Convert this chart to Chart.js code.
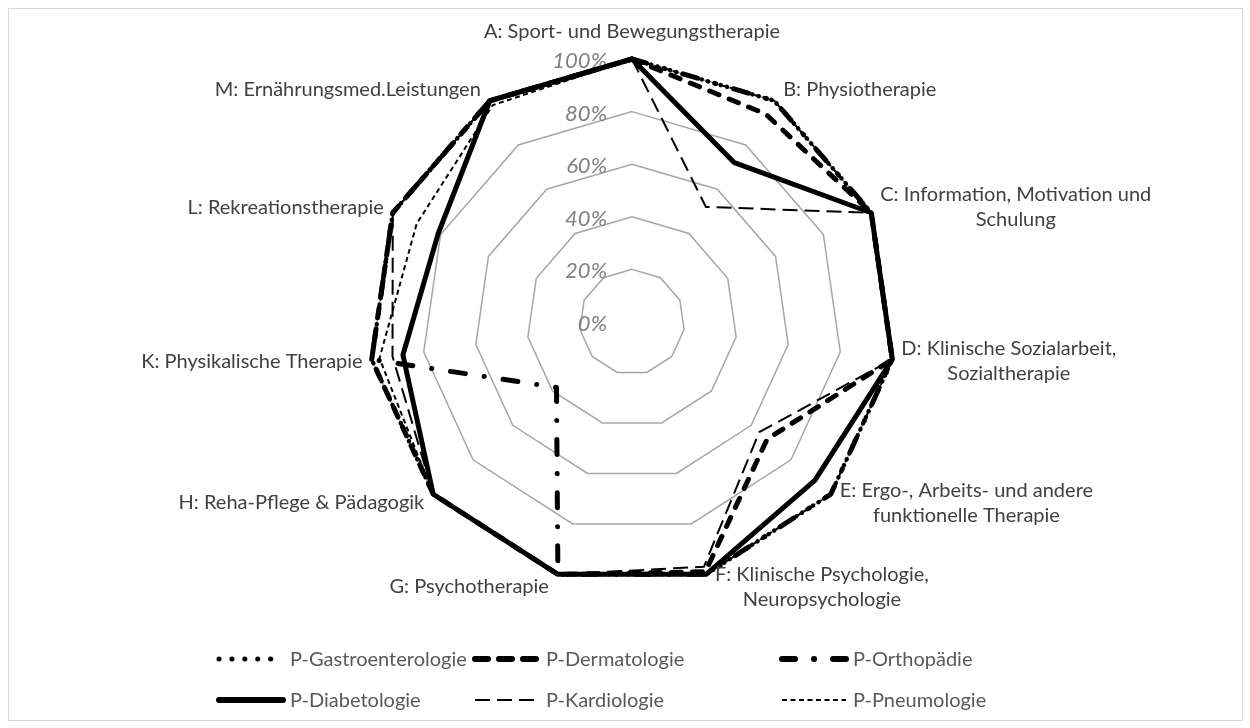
<!DOCTYPE html>
<html>
<head>
<meta charset="utf-8">
<script src="https://cdn.jsdelivr.net/npm/chart.js@4.4.1/dist/chart.umd.min.js"></script>
<style>
  html, body { margin: 0; padding: 0; background: #fff; }
  #wrap { position: relative; width: 1250px; height: 728px; }
  #frame { position: absolute; left: 8px; top: 8px; width: 1233px; height: 711px; border: 1px solid #d9d9d9; pointer-events: none; }
  canvas { display: block; }
</style>
</head>
<body>
<div id="wrap">
  <canvas id="radarChart"></canvas>
  <div id="frame"></div>
</div>
<script>
// Categories (multi-line labels as arrays)
const categories = [
    ['A: Sport- und Bewegungstherapie'],
    ['B: Physiotherapie'],
    ['C: Information, Motivation und', 'Schulung'],
    ['D: Klinische Sozialarbeit,', 'Sozialtherapie'],
    ['E: Ergo-, Arbeits- und andere', 'funktionelle Therapie'],
    ['F: Klinische Psychologie,', 'Neuropsychologie'],
    ['G: Psychotherapie'],
    ['H: Reha-Pflege & Pädagogik'],
    ['K: Physikalische Therapie'],
    ['L: Rekreationstherapie'],
    ['M: Ernährungsmed.Leistungen']
];

// Series values in percent
const gastroenterologie = [100, 100, 100, 100, 100, 100, 100, 100, 100, 100, 100];
const dermatologie      = [100, 94, 100, 100, 68, 99, 100, 100, 100, 100, 100];
const orthopaedie       = [100, 100, 100, 100, 100, 100, 100, 38, 100, 100, 100];
const diabetologie      = [100, 72, 100, 100, 92, 100, 100, 100, 88, 81, 100];
const kardiologie       = [100, 52, 100, 100, 64, 97, 100, 100, 92, 100, 100];
const pneumologie       = [100, 100, 100, 100, 100, 100, 100, 100, 97, 90, 98];

const tickValues = [0, 20, 40, 60, 80, 100];

const seriesNames = ['P-Gastroenterologie', 'P-Dermatologie', 'P-Orthopädie', 'P-Diabetologie', 'P-Kardiologie', 'P-Pneumologie'];

// Draws tick labels, category labels and the legend
const radarDecor = {
    id: 'radarDecor',
    beforeDatasetsDraw(chart) {
        const ctx = chart.ctx;
        const scale = chart.scales.r;
        ctx.save();
        ctx.font = 'italic 22px Lato';
        ctx.fillStyle = '#808080';
        ctx.textAlign = 'right';
        ctx.textBaseline = 'middle';
        tickValues.forEach(v => {
            const d = scale.getDistanceFromCenterForValue(v);
            ctx.fillText(v + '%', scale.xCenter - 25, scale.yCenter - d + 2);
        });
        ctx.restore();
    },
    afterDraw(chart) {
        const ctx = chart.ctx;
        const scale = chart.scales.r;
        const R = scale.drawingArea;
        ctx.save();
        ctx.font = '20px Lato';
        ctx.fillStyle = '#404040';
        ctx.textAlign = 'center';
        ctx.textBaseline = 'middle';
        const lh = 25;
        categories.forEach((lines, i) => {
            const p = scale.getPointPosition(i, R);
            const a = scale.getIndexAngle(i);
            const s = Math.sin(a), c = Math.cos(a);
            const w = Math.max(...lines.map(t => ctx.measureText(t).width));
            let cx, cy;
            if (Math.abs(s) < 0.05) {
                cx = p.x;
                cy = p.y - 27;
            } else {
                cx = s > 0 ? p.x + 9 + w / 2 : p.x - 9 - w / 2;
                cy = p.y - c * 13;
            }
            lines.forEach((t, k) => {
                ctx.fillText(t, cx, cy + (k - (lines.length - 1) / 2) * lh);
            });
        });

        // legend
        const colX = [217, 473, 780];
        const rowY = [659, 700];
        ctx.font = '20px Lato';
        ctx.fillStyle = '#595959';
        ctx.textAlign = 'left';
        chart.data.datasets.forEach((ds, i) => {
            const x = colX[i % 3];
            const y = rowY[Math.floor(i / 3)];
            ctx.save();
            ctx.strokeStyle = ds.borderColor;
            ctx.lineWidth = ds.legendWidth || ds.borderWidth;
            ctx.lineCap = ds.borderCapStyle || 'butt';
            ctx.setLineDash(ds.legendDash || ds.borderDash || []);
            ctx.beginPath();
            ctx.moveTo(x + 2, y);
            ctx.lineTo(x + 66, y);
            ctx.stroke();
            ctx.restore();
            ctx.fillText(ds.label, x + 73, y + 1);
        });
        ctx.restore();
    }
};

const ctx = document.getElementById('radarChart');
new Chart(ctx, {
    type: 'radar',
    data: {
        labels: categories,
        datasets: [{
            label: seriesNames[0],
            data: gastroenterologie,
            borderColor: '#000',
            borderWidth: 4.5,
            borderDash: [0.1, 6.5],
            legendDash: [0.1, 12.8],
            legendWidth: 5,
            borderCapStyle: 'round'
        }, {
            label: seriesNames[1],
            data: dermatologie,
            borderColor: '#000',
            borderWidth: 5,
            borderDash: [10, 11],
            legendDash: [13, 11],
            legendWidth: 6,
            borderCapStyle: 'round'
        }, {
            label: seriesNames[2],
            data: orthopaedie,
            borderColor: '#000',
            borderWidth: 5,
            borderDash: [15, 19, 0.1, 19],
            legendDash: [13, 19, 0.1, 19],
            legendWidth: 6,
            borderCapStyle: 'round'
        }, {
            label: seriesNames[3],
            data: diabetologie,
            borderColor: '#000',
            borderWidth: 5,
            borderDash: [],
            legendWidth: 6,
            borderCapStyle: 'round'
        }, {
            label: seriesNames[4],
            data: kardiologie,
            borderColor: '#000',
            borderWidth: 2,
            borderDash: [15, 7],
            borderCapStyle: 'butt'
        }, {
            label: seriesNames[5],
            data: pneumologie,
            borderColor: '#000',
            borderWidth: 2,
            borderDash: [5, 3.5],
            borderCapStyle: 'butt'
        }]
    },
    options: {
        responsive: true,
        maintainAspectRatio: false,
        animation: false,
        elements: {
            line: { fill: false, tension: 0, borderJoinStyle: 'round' },
            point: { radius: 0, hoverRadius: 0 }
        },
        layout: { padding: { top: 59, bottom: 143, left: 100, right: 86 } },
        plugins: {
            legend: { display: false },
            tooltip: { enabled: false }
        },
        scales: {
            r: {
                min: 0,
                max: 100,
                ticks: { display: false, stepSize: 20 },
                grid: { circular: false, color: '#a6a6a6', lineWidth: 1.5 },
                angleLines: { display: false },
                pointLabels: { display: false }
            }
        }
    },
    plugins: [radarDecor]
});
</script>
</body>
</html>
